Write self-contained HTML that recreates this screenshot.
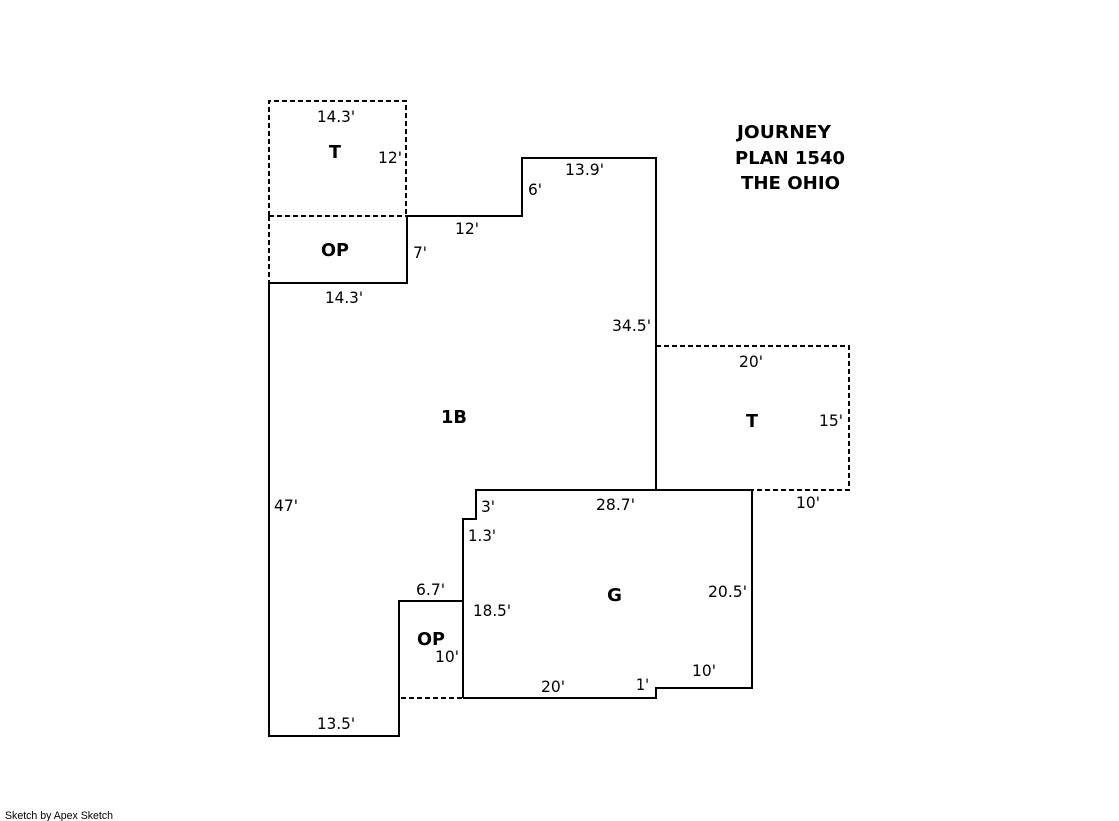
<!DOCTYPE html>
<html>
<head>
<meta charset="utf-8">
<style>
html,body{margin:0;padding:0;background:#fff}
svg{display:block}
text{font-family:"DejaVu Sans","Liberation Sans",sans-serif;font-size:16px;fill:#000}
.b{font-weight:bold;font-size:18px}
.s{font-family:"Liberation Sans",sans-serif;font-size:11px}
</style>
</head>
<body>
<svg width="1119" height="821" viewBox="0 0 1119 821" xmlns="http://www.w3.org/2000/svg">
<rect width="1119" height="821" fill="#fff"/>
<g fill="none" stroke="#000" stroke-width="2" shape-rendering="crispEdges">
<path d="M269 283H407V216H522V158H656V490H476V519H463V698M463 601H399V736H269V283"/>
<path d="M476 490H752V688H656V698H463"/>
<g stroke-dasharray="5 3">
<path d="M269 216V101H406V216"/>
<path d="M269 216H407"/>
<path d="M269 216V283"/>
<path d="M656 346H849V490H752"/>
<path d="M401 698H463"/>
</g>
</g>
<g>
<text x="317" y="122" textLength="38" lengthAdjust="spacingAndGlyphs">14.3'</text>
<text x="378" y="163" textLength="24" lengthAdjust="spacingAndGlyphs">12'</text>
<text x="455" y="234" textLength="24" lengthAdjust="spacingAndGlyphs">12'</text>
<text x="413" y="258" textLength="14" lengthAdjust="spacingAndGlyphs">7'</text>
<text x="325" y="303" textLength="38" lengthAdjust="spacingAndGlyphs">14.3'</text>
<text x="528" y="195" textLength="14" lengthAdjust="spacingAndGlyphs">6'</text>
<text x="565" y="175" textLength="39" lengthAdjust="spacingAndGlyphs">13.9'</text>
<text x="612" y="331" textLength="39" lengthAdjust="spacingAndGlyphs">34.5'</text>
<text x="739" y="367" textLength="24" lengthAdjust="spacingAndGlyphs">20'</text>
<text x="819" y="426" textLength="24" lengthAdjust="spacingAndGlyphs">15'</text>
<text x="796" y="508" textLength="24" lengthAdjust="spacingAndGlyphs">10'</text>
<text x="274" y="511" textLength="24" lengthAdjust="spacingAndGlyphs">47'</text>
<text x="481" y="512" textLength="14" lengthAdjust="spacingAndGlyphs">3'</text>
<text x="596" y="510" textLength="39" lengthAdjust="spacingAndGlyphs">28.7'</text>
<text x="468" y="541" textLength="28" lengthAdjust="spacingAndGlyphs">1.3'</text>
<text x="416" y="595" textLength="29" lengthAdjust="spacingAndGlyphs">6.7'</text>
<text x="473" y="616" textLength="38" lengthAdjust="spacingAndGlyphs">18.5'</text>
<text x="708" y="597" textLength="39" lengthAdjust="spacingAndGlyphs">20.5'</text>
<text x="435" y="662" textLength="24" lengthAdjust="spacingAndGlyphs">10'</text>
<text x="692" y="676" textLength="24" lengthAdjust="spacingAndGlyphs">10'</text>
<text x="541" y="692" textLength="24" lengthAdjust="spacingAndGlyphs">20'</text>
<text x="636" y="690" textLength="13" lengthAdjust="spacingAndGlyphs">1'</text>
<text x="317" y="729" textLength="38" lengthAdjust="spacingAndGlyphs">13.5'</text>
</g>
<g>
<text class="b" x="329" y="158" textLength="12" lengthAdjust="spacingAndGlyphs">T</text>
<text class="b" x="321" y="256" textLength="28" lengthAdjust="spacingAndGlyphs">OP</text>
<text class="b" x="441" y="423" textLength="26" lengthAdjust="spacingAndGlyphs">1B</text>
<text class="b" x="746" y="427" textLength="12" lengthAdjust="spacingAndGlyphs">T</text>
<text class="b" x="607" y="601" textLength="15" lengthAdjust="spacingAndGlyphs">G</text>
<text class="b" x="417" y="645" textLength="28" lengthAdjust="spacingAndGlyphs">OP</text>
<text class="b" x="737" y="138" textLength="94" lengthAdjust="spacingAndGlyphs">JOURNEY</text>
<text class="b" x="735" y="164" textLength="110" lengthAdjust="spacingAndGlyphs">PLAN 1540</text>
<text class="b" x="741" y="189" textLength="99" lengthAdjust="spacingAndGlyphs">THE OHIO</text>
</g>
<text class="s" x="5" y="819" textLength="108" lengthAdjust="spacingAndGlyphs">Sketch by Apex Sketch</text>
</svg>
</body>
</html>
